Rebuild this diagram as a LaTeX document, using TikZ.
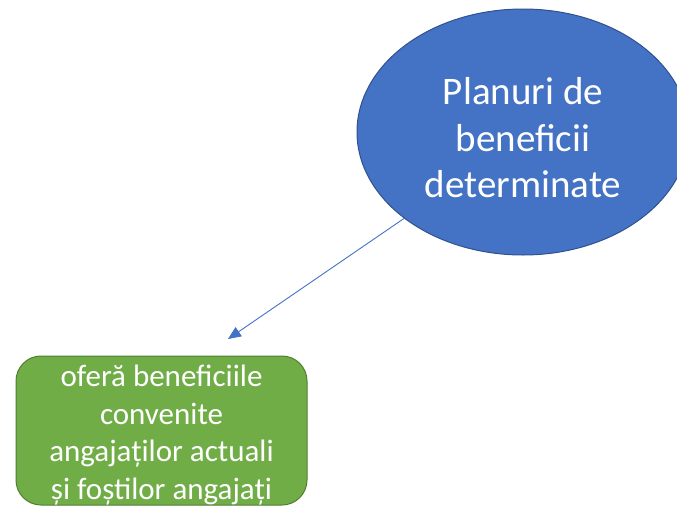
\documentclass[tikz,border=0pt]{standalone}
\usepackage{fontspec}
\setmainfont{Carlito}
\usetikzlibrary{shapes.geometric,arrows.meta}
\definecolor{ellfill}{HTML}{4472C4}
\definecolor{elldraw}{HTML}{2F528F}
\definecolor{boxfill}{HTML}{70AD47}
\definecolor{boxdraw}{HTML}{507E32}
\tikzset{
  bigellipse/.style={ellipse, fill=ellfill, draw=elldraw, line width=1pt, minimum width=332pt, minimum height=246pt, inner sep=0pt},
  ellipsetext/.style={text=white, align=center, inner sep=0pt, font=\fontsize{39}{46.5}\selectfont},
  greenbox/.style={rectangle, rounded corners=25pt, fill=boxfill, draw=boxdraw, line width=1pt, minimum width=291pt, minimum height=149pt, inner sep=0pt},
  boxtext/.style={text=white, align=center, inner sep=0pt, font=\fontsize{31}{37.5}\selectfont},
  link/.style={draw=ellfill, line width=0.9pt, -{Triangle[length=13pt,width=11pt]}}
}
\begin{document}
\begin{tikzpicture}[x=1pt,y=1pt]
\useasboundingbox (0,0) rectangle (677,-506);
\node[bigellipse] (e) at (523,-132) {};
\node[ellipsetext] (et) at (523,-138) {Planuri de\\beneficii\\determinate};
\node[greenbox] (b) at (161.5,-430.5) {};
\node[boxtext] (bt) at (161.5,-435) {oferă beneficiile\\convenite\\angajaților actuali\\și foștilor angajați};
\coordinate (tip) at (228,-339);
\draw[link] (e.216.7) -- (tip);
\end{tikzpicture}
\end{document}
